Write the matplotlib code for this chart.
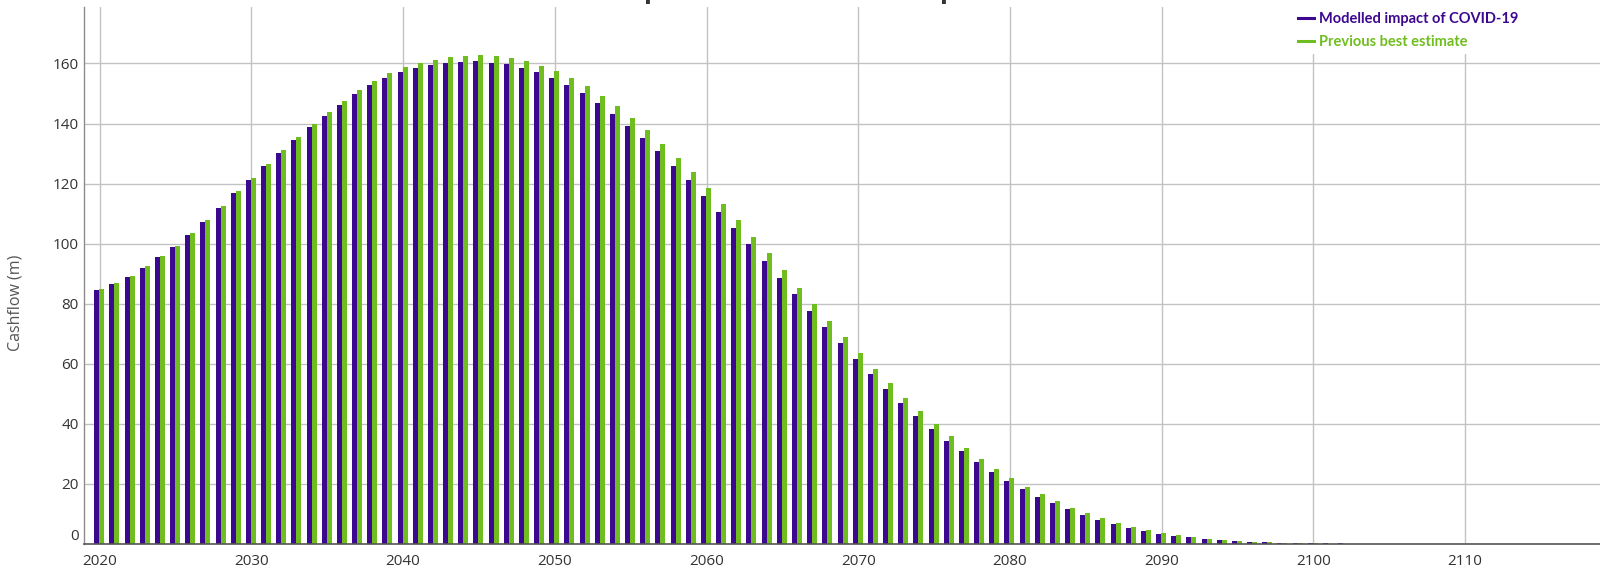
import numpy as np
import matplotlib
matplotlib.use("Agg")
import matplotlib.pyplot as plt
from matplotlib.lines import Line2D

# ---- data -------------------------------------------------------------
years = np.arange(2020, 2119)

modelled_covid = [
    84.6, 86.6, 89.0, 92.0, 95.5, 98.9, 102.9, 107.2, 111.8, 116.8,      # 2020-2029
    121.1, 125.7, 130.2, 134.5, 138.7, 142.6, 146.2, 149.7, 152.7, 155.2,  # 2030-2039
    157.1, 158.4, 159.4, 160.0, 160.6, 160.7, 160.3, 159.8, 158.6, 157.0,  # 2040-2049
    155.0, 152.8, 150.0, 146.8, 143.3, 139.3, 135.2, 130.8, 126.0, 121.1,  # 2050-2059
    116.0, 110.7, 105.3, 99.8, 94.2, 88.7, 83.1, 77.7, 72.2, 66.9,         # 2060-2069
    61.7, 56.7, 51.7, 47.0, 42.6, 38.4, 34.4, 30.8, 27.2, 24.0,            # 2070-2079
    21.0, 18.3, 15.8, 13.6, 11.6, 9.7, 8.1, 6.7, 5.4, 4.4,                 # 2080-2089
    3.4, 2.8, 2.2, 1.7, 1.3, 1.0, 0.8, 0.55, 0.45, 0.33,                   # 2090-2099
    0.25, 0.2, 0.18, 0.16, 0.15, 0.14, 0.13, 0.12, 0.11, 0.1,              # 2100-2109
    0.1, 0.09, 0.09, 0.08, 0.08, 0.07, 0.07, 0.07, 0.06,                   # 2110-2118
]

previous_best = [
    84.8, 86.9, 89.3, 92.4, 95.8, 99.3, 103.4, 107.8, 112.5, 117.5,       # 2020-2029
    122.0, 126.6, 131.2, 135.6, 139.8, 143.8, 147.6, 151.1, 154.1, 156.7,  # 2030-2039
    158.7, 160.2, 161.2, 162.0, 162.4, 162.7, 162.4, 161.8, 160.8, 159.2,  # 2040-2049
    157.4, 155.0, 152.4, 149.3, 145.8, 142.0, 137.8, 133.3, 128.6, 123.7,  # 2050-2059
    118.6, 113.2, 107.8, 102.3, 96.8, 91.1, 85.4, 79.9, 74.3, 69.0,        # 2060-2069
    63.7, 58.4, 53.6, 48.7, 44.2, 39.8, 35.8, 32.0, 28.3, 25.0,            # 2070-2079
    22.0, 19.1, 16.7, 14.2, 12.1, 10.2, 8.6, 7.1, 5.8, 4.7,                # 2080-2089
    3.8, 3.0, 2.3, 1.8, 1.3, 1.0, 0.8, 0.55, 0.44, 0.33,                   # 2090-2099
    0.22, 0.15, 0.12, 0.1, 0.08, 0.07, 0.06, 0.05, 0.05, 0.04,             # 2100-2109
    0.04, 0.03, 0.03, 0.03, 0.02, 0.02, 0.02, 0.02, 0.02,                  # 2110-2118
]

series_labels = ["Modelled impact of COVID-19", "Previous best estimate"]
y_ticks = [0, 20, 40, 60, 80, 100, 120, 140, 160]
x_ticks = [2020, 2030, 2040, 2050, 2060, 2070, 2080, 2090, 2100, 2110]
title_text = "Modelled impact of COVID-19 on expected cashflows"
y_axis_label = "Cashflow (m)"

# ---- style ------------------------------------------------------------
PURPLE = "#3d0890"
GREEN = "#6fbd1e"
GRID = "#c2c2c2"
TICK_FONT = ["Open Sans", "DejaVu Sans"]
LEGEND_FONT = ["Lato", "DejaVu Sans"]

W, H = 1600, 570
fig = plt.figure(figsize=(W / 100, H / 100), dpi=100)
left_px, top_px, bottom_px = 83.5, 7, 544
ax = fig.add_axes([left_px / W, 1 - bottom_px / H,
                   (W - left_px) / W, (bottom_px - top_px) / H])

bar_w = 0.33
ax.bar(years - 0.2, modelled_covid, width=bar_w, color=PURPLE,
       linewidth=0, zorder=3, label=series_labels[0])
ax.bar(years + 0.13, previous_best, width=bar_w, color=GREEN,
       linewidth=0, zorder=3, label=series_labels[1])

ax.set_xlim(2018.93, 2118.9)
ax.set_ylim(0, 178.8)
ax.set_axisbelow(True)
ax.grid(True, color=GRID, linewidth=1.0)

ax.set_yticks(y_ticks, labels=[str(v) for v in y_ticks])
ax.set_xticks(x_ticks, labels=[str(v) for v in x_ticks])
ax.tick_params(axis="both", length=0, labelsize=11, labelcolor="#333333")
ax.tick_params(axis="y", pad=3.6)
ax.tick_params(axis="x", pad=7.0)
for lab in ax.get_xticklabels() + ax.get_yticklabels():
    lab.set_family(TICK_FONT)
ax.get_yticklabels()[0].set_verticalalignment("bottom")

for side in ("top", "right"):
    ax.spines[side].set_visible(False)
ax.spines["left"].set_color("#8c8c8c")
ax.spines["left"].set_linewidth(1.0)
ax.spines["bottom"].set_color("#555555")
ax.spines["bottom"].set_linewidth(1.2)
ax.spines["bottom"].set_zorder(4)

# y-axis caption
fig.text(15.8 / W, 1 - 303 / H, y_axis_label, rotation=90, ha="center",
         va="center", color="#555555", fontsize=11.5, family=TICK_FONT)

# title sits above the plotting area
title = ax.set_title(title_text, fontsize=19, fontweight="bold", pad=6.5,
                     color="#333333", family=TICK_FONT)
title.set_x(0.4879)

# legend with coloured labels
handles = [Line2D([], [], color=PURPLE, lw=2.2),
           Line2D([], [], color=GREEN, lw=2.2)]
leg = ax.legend(handles, series_labels, loc="upper left",
                bbox_to_anchor=(1292 / W, 1 - 6.5 / H),
                bbox_transform=fig.transFigure, frameon=True,
                facecolor="white", edgecolor="none", framealpha=1,
                handlelength=1.1, handletextpad=0.34, labelspacing=0.57,
                borderpad=0.4, borderaxespad=0,
                prop={"family": LEGEND_FONT, "weight": "bold", "size": 10.5})
leg.set_zorder(5)
for txt, col in zip(leg.get_texts(), (PURPLE, GREEN)):
    txt.set_color(col)

fig.savefig("out.png", dpi=100)
